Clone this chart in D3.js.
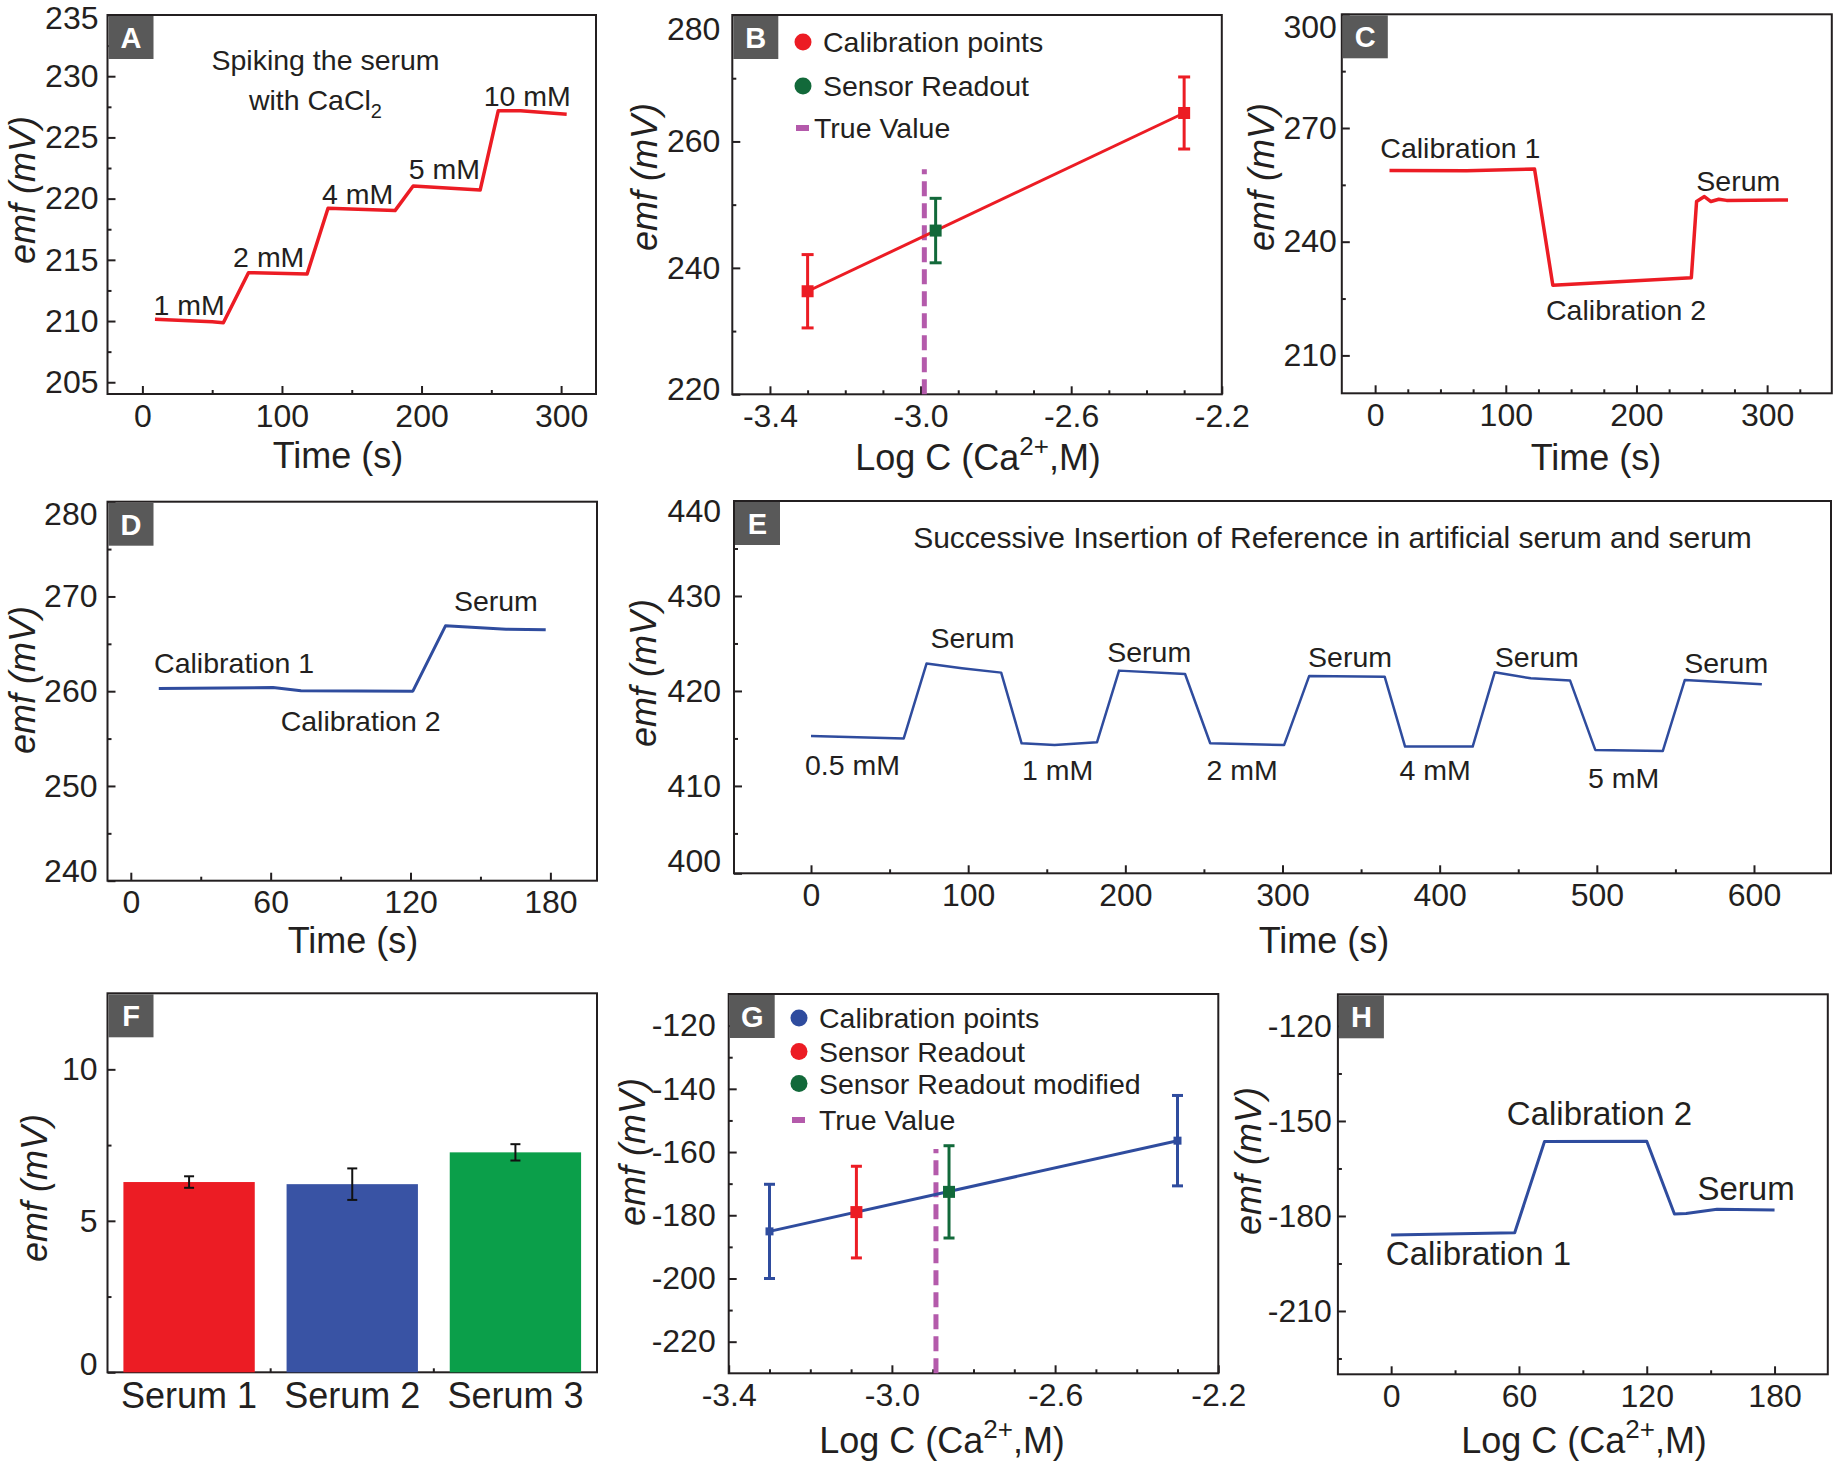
<!DOCTYPE html>
<html>
<head>
<meta charset="utf-8">
<script src="https://cdn.jsdelivr.net/npm/d3@7"></script>
<style>
  body { margin: 0; background: #fff; }
  svg { display: block; }
</style>
</head>
<body>
<script>
// ---------- values ----------

// A: spiking the serum with CaCl2
const aTime = [9, 50, 58, 76, 118, 133, 181, 194, 242, 255, 271, 304];
const aEmf  = [210.14, 209.95, 209.86, 213.95, 213.84, 219.21, 219.02, 221.03, 220.70, 227.18, 227.18, 226.9];

// B: calibration in log C
const bCalLog = [-3.30, -2.30];
const bCalEmf = [236.3, 264.5];
const bCalErr = [5.8, 5.7];
const bReadLog = [-2.96];
const bReadEmf = [245.9];
const bReadErr = [5.1];
const bTrueLog = -2.99;
const bTrueTop = 255.6;
const bLegend = ['Calibration points', 'Sensor Readout', 'True Value'];

// C: calibration 1, calibration 2, serum (red)
const cTime = [11, 70, 122, 136, 242, 246, 252, 257, 263, 269, 316];
const cEmf  = [258.8, 258.7, 259.2, 228.5, 230.5, 250.6, 251.9, 250.6, 251.2, 250.9, 251.0];

// D: same sequence (blue)
const dTime = [12, 61, 73, 121, 135, 161, 178];
const dEmf  = [260.28, 260.39, 260.04, 260.0, 266.9, 266.55, 266.48];

// E: successive insertion
const eTime = [0, 59, 73.5, 96, 121, 134, 155, 182, 196, 238, 254, 301, 317, 365, 378, 421, 435, 458, 483, 499, 542, 556, 605];
const eEmf  = [415.26, 415.0, 422.88, 422.39, 421.93, 414.49, 414.32, 414.6, 422.14, 421.79, 414.49, 414.3,
               421.58, 421.5, 414.14, 414.14, 421.96, 421.33, 421.09, 413.79, 413.68, 421.16, 420.7];
const eSerumAt = [[76, 424.5], [188.5, 423.0], [316.3, 422.56], [435.1, 422.5], [555.6, 421.9]];
const eConc = ['0.5 mM', '1 mM', '2 mM', '4 mM', '5 mM'];
const eConcAt = [[-3.9, 411.2], [134.2, 410.6], [251.6, 410.6], [374.5, 410.6], [494.4, 409.76]];

// F: bars
const fSamples = ['Serum 1', 'Serum 2', 'Serum 3'];
const fEmf = [6.28, 6.21, 7.26];
const fErr = [0.19, 0.52, 0.27];

// G: calibration in log C, second sensor
const gCalLog = [-3.30, -2.30];
const gCalEmf = [-185.1, -156.4];
const gCalErr = [14.9, 14.3];
const gReadLog = [-3.087];
const gReadEmf = [-179.0];
const gReadErr = [14.5];
const gModLog = [-2.86];
const gModEmf = [-172.6];
const gModErr = [14.6];
const gTrueLog = -2.892;
const gTrueTop = -159;
const gLegend = ['Calibration points', 'Sensor Readout', 'Sensor Readout modified', 'True Value'];

// H: calibration 1, calibration 2, serum (blue)
const hTime = [0, 58, 72, 120, 133, 138.5, 153, 180];
const hEmf  = [-186, -185.3, -156.5, -156.4, -179.4, -179.2, -177.9, -178.1];

// ---------- drawing ----------
const FONT = '"Liberation Sans", Arial, sans-serif';
const INK = '#231f20';
const RED = '#ec1c24', BLUE = '#2f4c9e', GREEN = '#12693a', MAGENTA = '#b45aab';

const svg = d3.select('body').append('svg')
    .attr('width', 1836).attr('height', 1464)
    .attr('font-family', FONT);

function range(a, b, step) {
    const out = [];
    for (let v = a; v <= b + 1e-9; v += step) out.push(+v.toFixed(4));
    return out;
}

function frame(p) {
    const g = svg.append('g');
    const [l, r] = p.x.range();
    const [b, t] = p.y.range();

    if (p.xMinor) g.append('g').attr('transform', `translate(0,${b})`)
        .call(d3.axisBottom(p.x).tickValues(p.xMinor).tickSize(-4).tickFormat(''));
    g.append('g').attr('transform', `translate(${l},0)`)
        .call(d3.axisLeft(p.y).tickValues(p.yMinor).tickSize(-4).tickFormat(''));
    g.append('g').attr('transform', `translate(0,${b})`)
        .call(d3.axisBottom(p.x).tickValues(p.xMajor).tickSize(-8).tickPadding(10)
            .tickFormat(p.xFmt || String));
    const ya = g.append('g').attr('transform', `translate(${l},0)`)
        .call(d3.axisLeft(p.y).tickValues(p.yMajor).tickSize(-8).tickPadding(p.ypad)
            .tickFormat(String));

    // the topmost / lowest labels sit a little inside the frame in the original
    const top = d3.max(p.yMajor), bot = d3.min(p.yMajor);
    ya.selectAll('.tick').filter(d => d === top).select('text')
        .attr('transform', `translate(0,${p.topShift || 0})`);
    ya.selectAll('.tick').filter(d => d === bot).select('text')
        .attr('transform', `translate(0,${p.botShift || 0})`);

    g.selectAll('.domain').remove();
    g.selectAll('g').attr('font-family', FONT).attr('font-size', 32);
    g.selectAll('.tick line').attr('stroke', INK).attr('stroke-width', 2);
    g.selectAll('.tick text').attr('fill', INK);

    g.append('rect')
        .attr('x', l).attr('y', t).attr('width', r - l).attr('height', b - t)
        .attr('fill', 'none').attr('stroke', INK).attr('stroke-width', 2);

    // panel letter
    g.append('rect').attr('x', l + 1).attr('y', t + 1).attr('width', 45).attr('height', 43)
        .attr('fill', '#595959');
    g.append('text').attr('x', l + 23.5).attr('y', t + 33)
        .attr('text-anchor', 'middle').attr('font-weight', 'bold').attr('font-size', 29)
        .attr('fill', '#fff').text(p.letter);

    // axis titles
    const xt = g.append('text').attr('x', p.xTitle[0]).attr('y', p.xTitle[1])
        .attr('text-anchor', 'middle').attr('font-size', 36).attr('fill', INK);
    if (p.logTitle) {
        xt.append('tspan').text('Log C (Ca');
        xt.append('tspan').attr('dy', -15).attr('font-size', 26).text('2+');
        xt.append('tspan').attr('dy', 15).text(',M)');
    } else {
        xt.text(p.xLabel);
    }
    g.append('text')
        .attr('transform', `translate(${p.yTitle[0]},${p.yTitle[1]}) rotate(-90)`)
        .attr('dy', '0.35em').attr('text-anchor', 'middle')
        .attr('font-size', 36).attr('font-style', 'italic').attr('fill', INK)
        .text('emf (mV)');
    return g;
}

function trace(g, x, y, xs, ys, color, w) {
    const line = d3.line().x(d => x(d[0])).y(d => y(d[1]));
    g.append('path').datum(xs.map((v, i) => [v, ys[i]]))
        .attr('d', line).attr('fill', 'none').attr('stroke', color)
        .attr('stroke-width', w || 3).attr('stroke-linejoin', 'round');
}

function note(g, px, py, txt, size) {
    return g.append('text').attr('x', px).attr('y', py)
        .attr('font-size', size || 28.5).attr('fill', INK).text(txt);
}

function errPoints(g, x, y, xs, ys, es, color, size, cap) {
    const d = xs.map((v, i) => ({ x: v, y: ys[i], e: es[i] }));
    const pg = g.append('g').attr('stroke', color).attr('stroke-width', 3);
    pg.selectAll('.stem').data(d).join('line')
        .attr('x1', p => x(p.x)).attr('x2', p => x(p.x))
        .attr('y1', p => y(p.y - p.e)).attr('y2', p => y(p.y + p.e));
    pg.selectAll('.capHi').data(d).join('line')
        .attr('x1', p => x(p.x) - cap / 2).attr('x2', p => x(p.x) + cap / 2)
        .attr('y1', p => y(p.y + p.e)).attr('y2', p => y(p.y + p.e));
    pg.selectAll('.capLo').data(d).join('line')
        .attr('x1', p => x(p.x) - cap / 2).attr('x2', p => x(p.x) + cap / 2)
        .attr('y1', p => y(p.y - p.e)).attr('y2', p => y(p.y - p.e));
    g.selectAll(null).data(d).join('rect')
        .attr('x', p => x(p.x) - size / 2).attr('y', p => y(p.y) - size / 2)
        .attr('width', size).attr('height', size).attr('fill', color);
}

function trueLine(g, x, y, xv, top) {
    g.append('line')
        .attr('x1', x(xv)).attr('x2', x(xv))
        .attr('y1', y.range()[0]).attr('y2', y(top))
        .attr('stroke', MAGENTA).attr('stroke-width', 5).attr('stroke-dasharray', '15,7');
}

function legend(g, x0, ys, labels, colors) {
    labels.forEach((lab, i) => {
        if (colors[i]) {
            g.append('circle').attr('cx', x0).attr('cy', ys[i]).attr('r', 8.5).attr('fill', colors[i]);
            note(g, x0 + 20, ys[i] + 10, lab);
        } else {
            g.append('rect').attr('x', x0 - 7).attr('y', ys[i] - 3).attr('width', 13).attr('height', 6)
                .attr('fill', MAGENTA);
            note(g, x0 + (labels.length === 3 ? 11 : 20), ys[i] + 10, lab);
        }
    });
}

const f1 = d => d.toFixed(1);

// ---- A ----
{
    const x = d3.scaleLinear().domain([-25, 325]).range([107.5, 596]);
    const y = d3.scaleLinear().domain([204.04, 235]).range([394, 15]);
    const g = frame({ x, y, letter: 'A', ypad: 9, topShift: 3,
        xMajor: [0, 100, 200, 300], xMinor: [50, 150, 250],
        yMajor: range(205, 235, 5), yMinor: range(207.5, 232.5, 5),
        xLabel: 'Time (s)', xTitle: [338, 468], yTitle: [22, 190] });
    trace(g, x, y, aTime, aEmf, RED, 3.5);
    note(g, x(49.5), y(230.5), 'Spiking the serum');
    const w = note(g, x(76.3), y(227.2), 'with CaCl');
    w.append('tspan').attr('dy', 8).attr('font-size', 20).text('2');
    [['1 mM', 7.9, 210.5], ['2 mM', 65, 214.4], ['4 mM', 128.7, 219.6],
     ['5 mM', 190.9, 221.6], ['10 mM', 244.5, 227.6]]
        .forEach(n => note(g, x(n[1]), y(n[2]), n[0]));
}

// ---- B ----
{
    const x = d3.scaleLinear().domain([-3.5, -2.2]).range([732.3, 1221.8]);
    const y = d3.scaleLinear().domain([220, 280]).range([394.3, 15]);
    const g = frame({ x, y, letter: 'B', ypad: 12, topShift: 14, botShift: -5,
        xMajor: [-3.4, -3.0, -2.6, -2.2], xMinor: [-3.3, -3.2, -3.1, -2.9, -2.8, -2.7, -2.5, -2.4, -2.3],
        xFmt: f1, yMajor: [220, 240, 260, 280], yMinor: [230, 250, 270],
        logTitle: true, xTitle: [978, 470], yTitle: [644, 177] });
    trueLine(g, x, y, bTrueLog, bTrueTop);
    trace(g, x, y, bCalLog, bCalEmf, RED, 3);
    errPoints(g, x, y, bCalLog, bCalEmf, bCalErr, RED, 12, 12);
    errPoints(g, x, y, bReadLog, bReadEmf, bReadErr, GREEN, 12, 12);
    legend(g, 803, [42, 86, 128], bLegend, [RED, GREEN, null]);
}

// ---- C ----
{
    const x = d3.scaleLinear().domain([-25.5, 349.5]).range([1341.8, 1831.8]);
    const y = d3.scaleLinear().domain([200, 300]).range([393.3, 14.3]);
    const g = frame({ x, y, letter: 'C', ypad: 5, topShift: 13,
        xMajor: [0, 100, 200, 300], xMinor: range(25, 325, 25).filter(v => v % 100),
        yMajor: [210, 240, 270, 300], yMinor: [225, 255, 285],
        xLabel: 'Time (s)', xTitle: [1596, 470], yTitle: [1261, 177] });
    trace(g, x, y, cTime, cEmf, RED, 3.5);
    note(g, x(4), y(262), 'Calibration 1');
    note(g, x(130.8), y(219.3), 'Calibration 2');
    note(g, x(245.8), y(253.5), 'Serum');
}

// ---- D ----
{
    const x = d3.scaleLinear().domain([-10, 200]).range([107.5, 597]);
    const y = d3.scaleLinear().domain([240, 280]).range([880.7, 501.7]);
    const g = frame({ x, y, letter: 'D', ypad: 10, topShift: 13, botShift: -9,
        xMajor: [0, 60, 120, 180], xMinor: [30, 90, 150],
        yMajor: range(240, 280, 10), yMinor: range(245, 275, 10),
        xLabel: 'Time (s)', xTitle: [353, 953], yTitle: [22, 680] });
    trace(g, x, y, dTime, dEmf, BLUE, 3);
    note(g, x(10), y(261.95), 'Calibration 1');
    note(g, x(64.3), y(255.83), 'Calibration 2');
    note(g, x(138.6), y(268.5), 'Serum');
}

// ---- E ----
{
    const x = d3.scaleLinear().domain([-49, 649]).range([734, 1831]);
    const y = d3.scaleLinear().domain([400.8, 440]).range([873.3, 501]).clamp(true);
    const g = frame({ x, y, letter: 'E', ypad: 13, topShift: 10, botShift: -12,
        xMajor: range(0, 600, 100), xMinor: range(50, 550, 100),
        yMajor: range(400, 440, 10), yMinor: range(405, 435, 10),
        xLabel: 'Time (s)', xTitle: [1324, 953], yTitle: [643, 673] });
    trace(g, x, y, eTime, eEmf, BLUE, 2.5);
    note(g, x(65), y(435.0), 'Successive Insertion of Reference in artificial serum and serum', 30);
    eSerumAt.forEach(p => note(g, x(p[0]), y(p[1]), 'Serum'));
    eConc.forEach((c, i) => note(g, x(eConcAt[i][0]), y(eConcAt[i][1]), c));
}

// ---- F ----
{
    const x = d3.scaleBand().domain(fSamples).range([107.5, 597])
        .paddingInner(0.195).paddingOuter(0.0975);
    const y = d3.scaleLinear().domain([0, 12.51]).range([1372.3, 993.3]);
    const g = frame({ x, y, letter: 'F', ypad: 10, botShift: -8,
        xMajor: fSamples, yMajor: [0, 5, 10], yMinor: [2.5, 7.5],
        xLabel: '', xTitle: [352, 1440], yTitle: [34, 1188] });
    const colors = [RED, '#3953a4', '#0b9f4a'];
    g.selectAll('.bar').data(fSamples).join('rect')
        .attr('x', d => x(d)).attr('width', x.bandwidth())
        .attr('y', (d, i) => y(fEmf[i])).attr('height', (d, i) => y(0) - y(fEmf[i]))
        .attr('fill', (d, i) => colors[i]);
    // minor ticks between the bars
    const step = x.step();
    g.selectAll('.mt').data(fSamples.slice(1)).join('line')
        .attr('x1', d => x(d) - (step - x.bandwidth()) / 2).attr('x2', d => x(d) - (step - x.bandwidth()) / 2)
        .attr('y1', y(0)).attr('y2', y(0) - 4).attr('stroke', INK).attr('stroke-width', 2);
    // error bars
    const eb = g.append('g').attr('stroke', '#111').attr('stroke-width', 2);
    fSamples.forEach((s, i) => {
        const cx = x(s) + x.bandwidth() / 2;
        eb.append('line').attr('x1', cx).attr('x2', cx).attr('y1', y(fEmf[i] - fErr[i])).attr('y2', y(fEmf[i] + fErr[i]));
        [fEmf[i] - fErr[i], fEmf[i] + fErr[i]].forEach(v =>
            eb.append('line').attr('x1', cx - 5).attr('x2', cx + 5).attr('y1', y(v)).attr('y2', y(v)));
    });
    g.selectAll('.tick text').filter(function () { return fSamples.includes(this.textContent); })
        .attr('font-size', 36);
    // bring the axis ticks above the bars
    g.selectAll('.tick').raise();
}

// ---- G ----
{
    const x = d3.scaleLinear().domain([-3.4, -2.2]).range([728.7, 1218.3]);
    const y = d3.scaleLinear().domain([-230, -110]).range([1373.3, 994]);
    const g = frame({ x, y, letter: 'G', ypad: 13,
        xMajor: [-3.4, -3.0, -2.6, -2.2], xMinor: [-3.3, -3.2, -3.1, -2.9, -2.8, -2.7, -2.5, -2.4, -2.3],
        xFmt: f1, yMajor: range(-220, -120, 20), yMinor: range(-210, -130, 20),
        logTitle: true, xTitle: [942, 1453], yTitle: [632, 1152] });
    trueLine(g, x, y, gTrueLog, gTrueTop);
    trace(g, x, y, gCalLog, gCalEmf, BLUE, 3);
    errPoints(g, x, y, gCalLog, gCalEmf, gCalErr, BLUE, 8, 11);
    errPoints(g, x, y, gReadLog, gReadEmf, gReadErr, RED, 12, 11);
    errPoints(g, x, y, gModLog, gModEmf, gModErr, GREEN, 12, 11);
    legend(g, 799, [1018, 1051.5, 1083.5, 1120], gLegend, [BLUE, RED, GREEN, null]);
}

// ---- H ----
{
    const x = d3.scaleLinear().domain([-25, 205]).range([1337.9, 1827.8]);
    const y = d3.scaleLinear().domain([-230, -110]).range([1374.3, 994.3]);
    const g = frame({ x, y, letter: 'H', ypad: 6,
        xMajor: [0, 60, 120, 180], xMinor: [30, 90, 150],
        yMajor: [-210, -180, -150, -120], yMinor: [-225, -195, -165, -135],
        logTitle: true, xTitle: [1584, 1453], yTitle: [1248, 1161] });
    trace(g, x, y, hTime, hEmf, BLUE, 3);
    note(g, x(54.3), y(-151.3), 'Calibration 2', 33);
    note(g, x(143.8), y(-175), 'Serum', 33);
    note(g, x(-2.5), y(-195.5), 'Calibration 1', 33);
}
</script>
</body>
</html>
